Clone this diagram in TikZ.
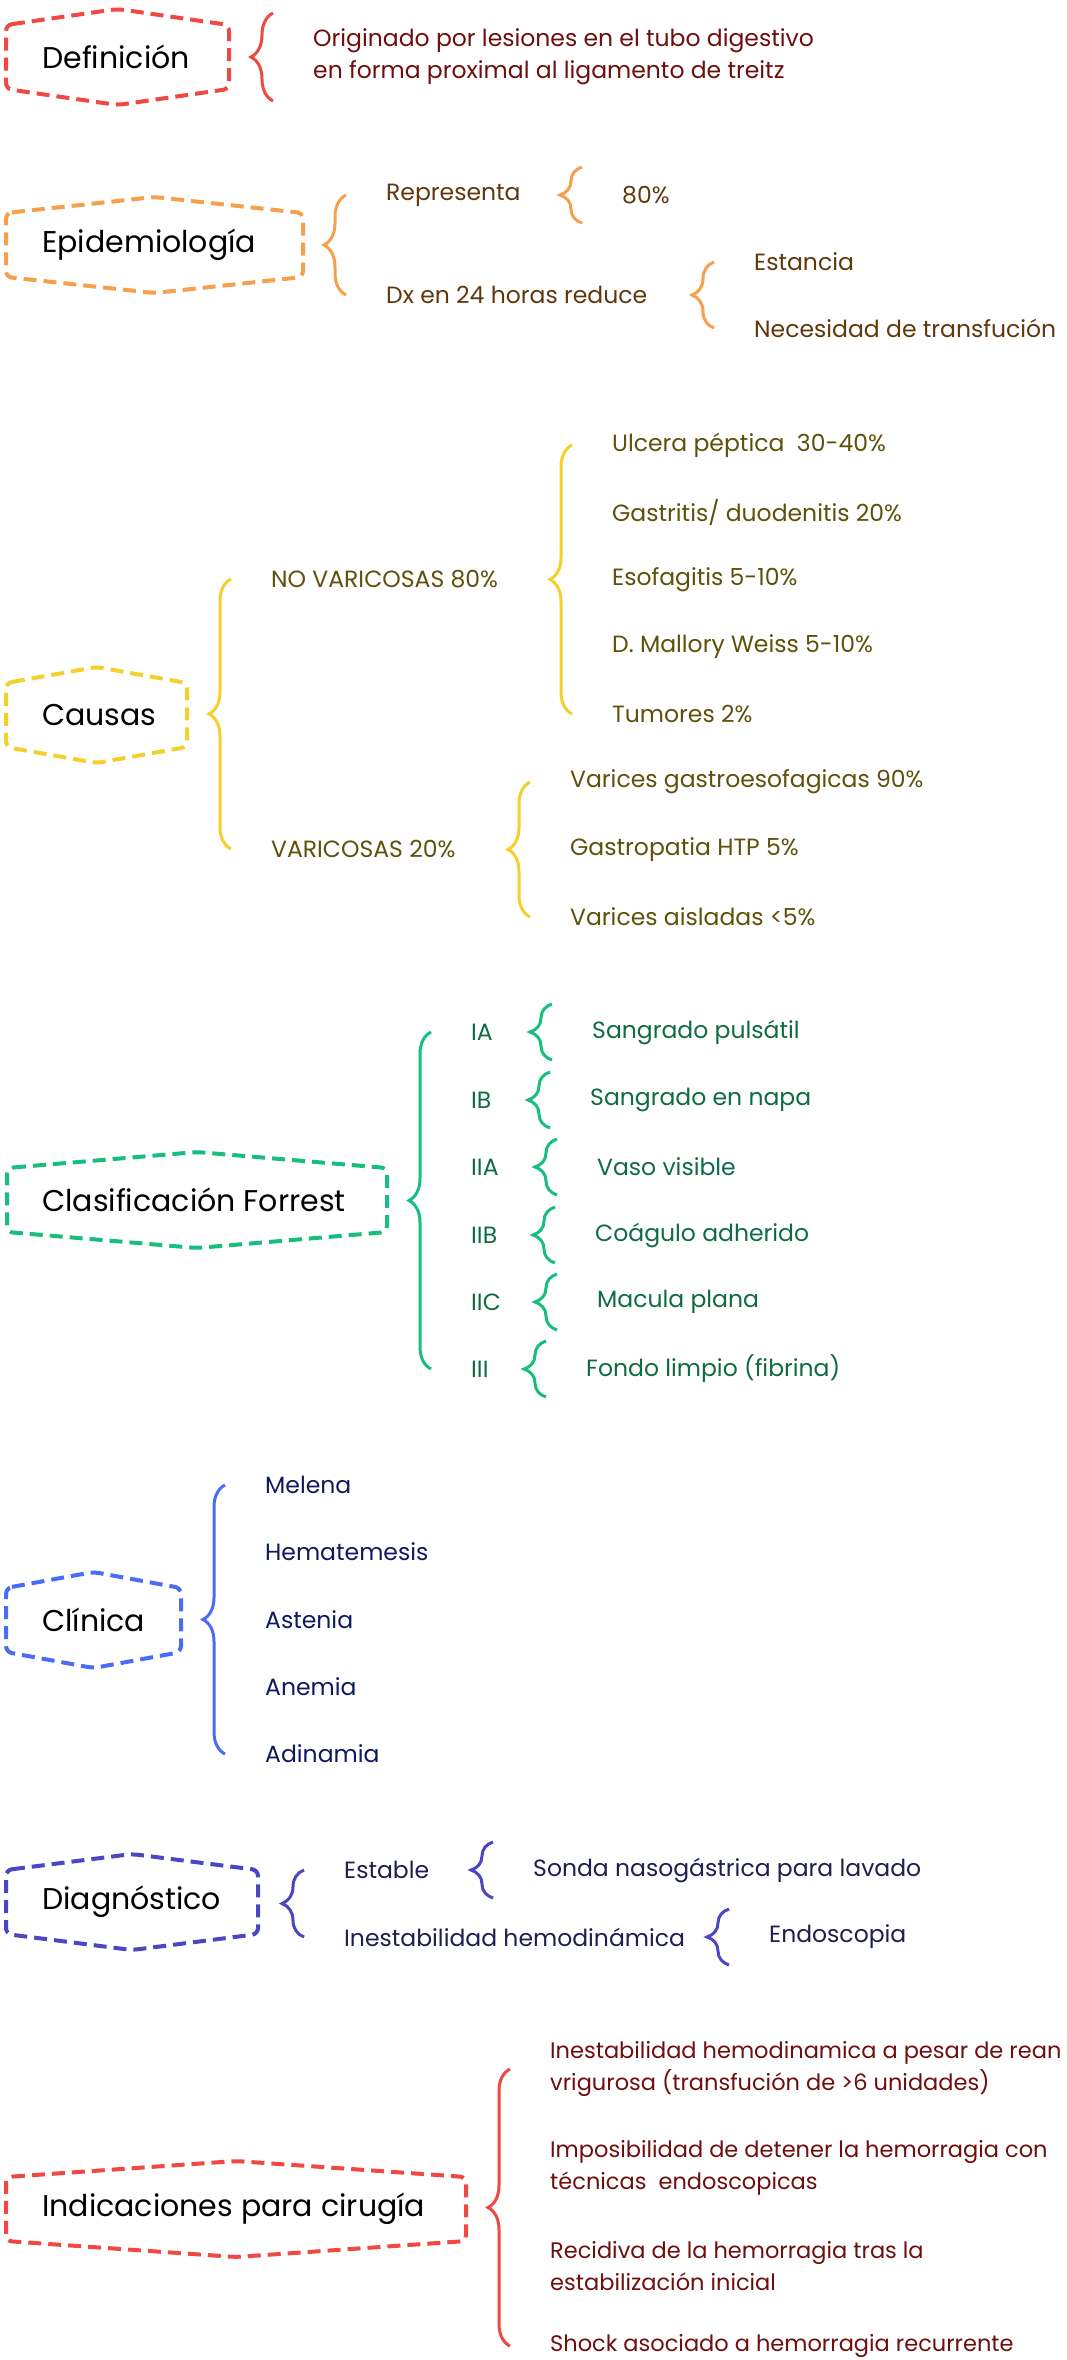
\documentclass[tikz,border=0pt]{standalone}
\usepackage{fontspec}
\setmainfont{Poppins}
\usetikzlibrary{decorations.pathreplacing, calc}
\definecolor{defred}{RGB}{240,72,66}
\definecolor{defdark}{RGB}{110,14,14}
\definecolor{epiorange}{RGB}{245,160,75}
\definecolor{epidark}{RGB}{96,56,12}
\definecolor{cauyellow}{RGB}{244,208,44}
\definecolor{caudark}{RGB}{95,80,10}
\definecolor{forgreen}{RGB}{24,190,123}
\definecolor{fordark}{RGB}{14,107,67}
\definecolor{cliblue}{RGB}{74,108,247}
\definecolor{clidark}{RGB}{15,25,96}
\definecolor{diaindigo}{RGB}{75,71,194}
\definecolor{diadark}{RGB}{30,30,80}
\tikzset{
	hexa/.pic={
		\draw [pic actions] (-#1,-32) -- (0,-48) -- (#1,-32) -- (#1,32) -- (0,48) -- (-#1,32) -- cycle;
	},
	hexbox/.style={line width=4pt, dash pattern=on 13pt off 7pt, rounded corners=6pt},
	curly/.style={decorate, decoration={brace, amplitude=22pt}, line width=3pt},
	headtxt/.style={anchor=west, inner sep=0pt, font=\fontsize{30}{36}\selectfont},
	leaf/.style={anchor=west, inner sep=0pt, align=left, font=\fontsize{23.5}{32}\selectfont},
	longleaf/.style={leaf, font=\fontsize{22.5}{32}\selectfont}
}

\begin{document}
\begin{tikzpicture}[x=1pt,y=-1pt]
	\useasboundingbox (0,0) rectangle (1067,2360);
	\clip (0,0) rectangle (1067,2360);

	% Definicion
	\pic[draw=defred, hexbox] at (117.5,57) {hexa=111.5};
	\node[headtxt] (Def) at (42,57) {Definición};
	\node[leaf, text=defdark] (DefTxt) at (313,57) {Originado por lesiones en el tubo digestivo\\en forma proximal al ligamento de treitz};
	\draw[curly, defred] ($(DefTxt.west)+(-40,44)$) -- ($(DefTxt.west)+(-40,-44)$);

	% Epidemiologia
	\pic[draw=epiorange, hexbox] at (154.5,245) {hexa=148.5};
	\node[headtxt] (Epi) at (42,245) {Epidemiología};
	\node[leaf, text=epidark] (Rep) at (386,195) {Representa};
	\node[leaf, text=epidark] (Dx) at (386,295) {Dx en 24 horas reduce};
	\node[leaf, text=epidark] (P80) at (622,195) {80\%};
	\node[leaf, text=epidark] (Est) at (754,262) {Estancia};
	\node[leaf, text=epidark] (Nec) at (754,328) {Necesidad de transfución};
	\draw[curly, epiorange] ($(Dx.west)+(-40,0)$) -- ($(Rep.west)+(-40,0)$);
	\draw[curly, epiorange] ($(P80.west)+(-40,28)$) -- ($(P80.west)+(-40,-28)$);
	\draw[curly, epiorange] ($(Nec.west)+(-40,0)$) -- ($(Est.west)+(-40,0)$);

	% Causas
	\pic[draw=cauyellow, hexbox] at (96.5,715) {hexa=90.5};
	\node[headtxt] (Cau) at (42,715) {Causas};
	\node[leaf, text=caudark] (NoVar) at (271,579) {NO VARICOSAS 80\%};
	\node[leaf, text=caudark] (Var) at (271,849) {VARICOSAS 20\%};
	\node[leaf, text=caudark] (Ulc) at (612,445) {Ulcera péptica\ \ 30-40\%};
	\node[leaf, text=caudark] (Gas) at (612,512) {Gastritis/ duodenitis 20\%};
	\node[leaf, text=caudark] (Eso) at (612,580) {Esofagitis 5-10\%};
	\node[leaf, text=caudark] (Mal) at (612,647) {D. Mallory Weiss 5-10\%};
	\node[leaf, text=caudark] (Tum) at (612,714) {Tumores 2\%};
	\node[leaf, text=caudark] (VGE) at (570,782) {Varices gastroesofagicas 90\%};
	\node[leaf, text=caudark] (HTP) at (570,850) {Gastropatia HTP 5\%};
	\node[leaf, text=caudark] (VAi) at (570,917) {Varices aisladas <5\%};
	\draw[curly, cauyellow] ($(Var.west)+(-40,0)$) -- ($(NoVar.west)+(-40,0)$);
	\draw[curly, cauyellow] ($(Tum.west)+(-40,0)$) -- ($(Ulc.west)+(-40,0)$);
	\draw[curly, cauyellow] ($(VAi.west)+(-40,0)$) -- ($(VGE.west)+(-40,0)$);

	% Clasificacion Forrest
	\pic[draw=forgreen, hexbox] at (197,1200) {hexa=190};
	\node[headtxt] (For) at (42,1200) {Clasificación Forrest};
	\node[leaf, text=fordark] (IA) at (471,1032) {IA};
	\node[leaf, text=fordark] (IB) at (471,1100) {IB};
	\node[leaf, text=fordark] (IIA) at (471,1167) {IIA};
	\node[leaf, text=fordark] (IIB) at (471,1235) {IIB};
	\node[leaf, text=fordark] (IIC) at (471,1302) {IIC};
	\node[leaf, text=fordark] (III) at (471,1369) {III};
	\node[leaf, text=fordark] (Pul) at (592,1032) {Sangrado pulsátil};
	\node[leaf, text=fordark] (Nap) at (590,1100) {Sangrado en napa};
	\node[leaf, text=fordark] (Vas) at (597,1167) {Vaso visible};
	\node[leaf, text=fordark] (Coa) at (595,1235) {Coágulo adherido};
	\node[leaf, text=fordark] (Mac) at (597,1302) {Macula plana};
	\node[leaf, text=fordark] (Fon) at (586,1369) {Fondo limpio (fibrina)};
	\draw[curly, forgreen] ($(III.west)+(-40,0)$) -- ($(IA.west)+(-40,0)$);
	\draw[curly, forgreen] ($(Pul.west)+(-40,28)$) -- ($(Pul.west)+(-40,-28)$);
	\draw[curly, forgreen] ($(Nap.west)+(-40,28)$) -- ($(Nap.west)+(-40,-28)$);
	\draw[curly, forgreen] ($(Vas.west)+(-40,28)$) -- ($(Vas.west)+(-40,-28)$);
	\draw[curly, forgreen] ($(Coa.west)+(-40,28)$) -- ($(Coa.west)+(-40,-28)$);
	\draw[curly, forgreen] ($(Mac.west)+(-40,28)$) -- ($(Mac.west)+(-40,-28)$);
	\draw[curly, forgreen] ($(Fon.west)+(-40,28)$) -- ($(Fon.west)+(-40,-28)$);

	% Clinica
	\pic[draw=cliblue, hexbox] at (93.5,1620) {hexa=87.5};
	\node[headtxt] (Cli) at (42,1620) {Clínica};
	\node[leaf, text=clidark] (Mel) at (265,1485) {Melena};
	\node[leaf, text=clidark] (Hem) at (265,1552) {Hematemesis};
	\node[leaf, text=clidark] (Ast) at (265,1620) {Astenia};
	\node[leaf, text=clidark] (Ane) at (265,1687) {Anemia};
	\node[leaf, text=clidark] (Adi) at (265,1754) {Adinamia};
	\draw[curly, cliblue] ($(Adi.west)+(-40,0)$) -- ($(Mel.west)+(-40,0)$);

	% Diagnostico
	\pic[draw=diaindigo, hexbox] at (132,1902) {hexa=126};
	\node[headtxt] (Dia) at (42,1902) {Diagnóstico};
	\node[leaf, text=diadark] (Estb) at (344,1870) {Estable};
	\node[leaf, text=diadark] (Inest) at (344,1937) {Inestabilidad hemodinámica};
	\node[leaf, text=diadark] (Sonda) at (533,1870) {Sonda nasogástrica para lavado};
	\node[leaf, text=diadark] (Endo) at (769,1937) {Endoscopia};
	\draw[curly, diaindigo] ($(Inest.west)+(-40,0)$) -- ($(Estb.west)+(-40,0)$);
	\draw[curly, diaindigo] ($(Sonda.west)+(-40,28)$) -- ($(Sonda.west)+(-40,-28)$);
	\draw[curly, diaindigo] ($(Endo.west)+(-40,28)$) -- ($(Endo.west)+(-40,-28)$);

	% Indicaciones para cirugia
	\pic[draw=defred, hexbox] at (236,2209) {hexa=230};
	\node[headtxt] (Ind) at (42,2209) {Indicaciones para cirugía};
	\node[longleaf, text=defdark] (Ind1) at (550,2069) {Inestabilidad hemodinamica a pesar de rean\\vrigurosa (transfución de >6 unidades)};
	\node[longleaf, text=defdark] (Ind2) at (550,2168) {Imposibilidad de detener la hemorragia con\\técnicas\ \ endoscopicas};
	\node[longleaf, text=defdark] (Ind3) at (550,2266) {Recidiva de la hemorragia tras la\\estabilización inicial};
	\node[longleaf, text=defdark] (Ind4) at (550,2346) {Shock asociado a hemorragia recurrente};
	\draw[curly, defred] ($(Ind4.west)+(-40,0)$) -- ($(Ind1.west)+(-40,0)$);
\end{tikzpicture}
\end{document}
